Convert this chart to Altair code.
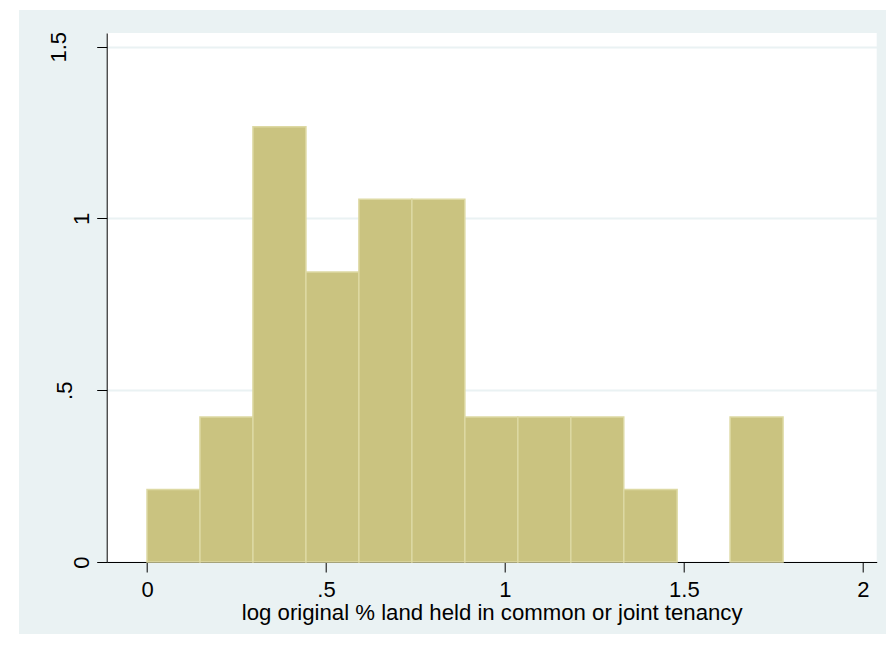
import altair as alt
import pandas as pd

# ---- data ----
bin_start = [0.000, 0.148, 0.296, 0.444, 0.592, 0.740, 0.888, 1.036, 1.184, 1.332, 1.481, 1.629]
bin_end = [0.148, 0.296, 0.444, 0.592, 0.740, 0.888, 1.036, 1.184, 1.332, 1.481, 1.629, 1.777]
density = [0.211, 0.422, 1.267, 0.844, 1.056, 1.056, 0.422, 0.422, 0.422, 0.211, 0.0, 0.422]

x_ticks = [0, 0.5, 1, 1.5, 2]
x_tick_labels = ["0", ".5", "1", "1.5", "2"]
y_ticks = [0, 0.5, 1, 1.5]
y_tick_labels = ["0", ".5", "1", "1.5"]
x_title = "log original % land held in common or joint tenancy"

df = pd.DataFrame({"start": bin_start, "end": bin_end, "density": density})

FONT = "Liberation Sans"
BG = "#EAF2F3"
W, H = 770, 529


def label_expr(vals, labels):
    parts = [f"datum.value == {v} ? '{l}'" for v, l in zip(vals, labels)]
    return " : ".join(parts) + " : ''"


x_scale = alt.Scale(domain=[-0.1126, 2.0386], nice=False, zero=False)
y_scale = alt.Scale(domain=[0, 1.540], nice=False)

x_axis = alt.Axis(
    values=x_ticks,
    labelExpr=label_expr(x_ticks, x_tick_labels),
    grid=False,
    title=x_title,
    labelAngle=0,
    labelBaseline="alphabetic",
    labelPadding=24,
    titleBaseline="alphabetic",
    titleY=57,
    titleFontSize=22.2,
    titleFontWeight="normal",
    titleFont=FONT,
    titleColor="black",
)

y_axis = alt.Axis(
    values=y_ticks,
    labelExpr=label_expr(y_ticks, y_tick_labels),
    grid=True,
    gridColor=BG,
    gridWidth=2,
    title=None,
    labelAngle=270,
    labelAlign="center",
    labelBaseline="alphabetic",
    labelPadding={
        "condition": [
            {"test": "datum.value == 0.5", "value": 25},
            {"test": "datum.value == 1.5", "value": 31.7},
        ],
        "value": 8.4,
    },
)

bars = (
    alt.Chart(df)
    .transform_filter("datum.density > 0")
    .mark_rect(color="#CAC380", stroke="#DDD9A3", strokeWidth=1.5)
    .encode(
        x=alt.X("start:Q", scale=x_scale, axis=x_axis),
        x2="end:Q",
        y=alt.Y("density:Q", scale=y_scale, axis=y_axis),
        y2=alt.datum(0),
    )
)

strip_data = alt.Data(values=[{"k": 1}])
left_strip = alt.Chart(strip_data).mark_rect(color="white").encode(
    x=alt.value(-98.7), x2=alt.value(-87.7), y=alt.value(-25), y2=alt.value(H + 72)
)
top_strip = alt.Chart(strip_data).mark_rect(color="white").encode(
    x=alt.value(-98.7), x2=alt.value(W + 10), y=alt.value(-25), y2=alt.value(-23)
)

chart = (
    alt.layer(left_strip, top_strip, bars)
    .properties(
        width=W,
        height=H,
        padding={"left": 98.7, "top": 25, "right": 9.3, "bottom": 72},
        autosize=alt.AutoSizeParams(type="none"),
        background=BG,
    )
    .configure_view(fill="white", strokeWidth=0)
    .configure_axis(
        domainColor="black",
        domainWidth=1,
        tickColor="black",
        tickSize=10,
        tickWidth=1,
        labelFont=FONT,
        labelFontSize=22,
        labelColor="black",
    )
)

chart.save("out.html", embed_options={"renderer": "svg", "actions": False})
